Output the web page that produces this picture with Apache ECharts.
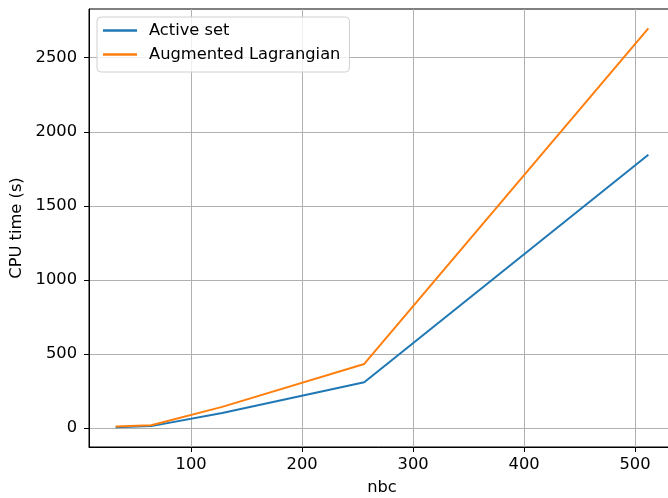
<!DOCTYPE html>
<html>
<head>
<meta charset="utf-8">
<script src="https://cdn.jsdelivr.net/npm/echarts@6/dist/echarts.min.js"></script>
<style>
html,body{margin:0;padding:0;background:#fff;}
#chart{width:668px;height:498px;}
</style>
</head>
<body>
<div id="chart"></div>
<script>
const nbc = [32, 64, 128, 256, 512];
const activeSet = [5, 12, 100, 308, 1845];
const augmentedLagrangian = [9, 18, 142, 432, 2698];
const xTicks = [100, 200, 300, 400, 500];
const yTicks = [0, 500, 1000, 1500, 2000, 2500];
const seriesNames = ['Active set', 'Augmented Lagrangian'];

const FONT = 'DejaVu Sans';
const FS = 16.3;
const chart = echarts.init(document.getElementById('chart'));
chart.setOption({
  animation: false,
  backgroundColor: '#fff',
  grid: { left: 89, top: 9, width: 586, height: 438, outerBoundsMode: 'none', containLabel: false, show: true, borderColor: '#000', borderWidth: 1, backgroundColor: 'transparent' },
  legend: {
    orient: 'vertical', left: 97, top: 17,
    data: seriesNames,
    icon: 'rect', itemWidth: 34, itemHeight: 2.5, itemGap: 7,
    padding: [5, 9, 9, 6],
    backgroundColor: 'rgba(255,255,255,0.8)', borderColor: '#d0d0d0', borderWidth: 1, borderRadius: 4,
    textStyle: { fontFamily: FONT, fontSize: FS, color: '#000', lineHeight: 17, padding: [0, 0, 0, 7] }
  },
  xAxis: {
    type: 'value', min: 8, max: 536,
    name: 'nbc', nameLocation: 'middle', nameGap: 33,
    nameTextStyle: { fontFamily: FONT, fontSize: FS, color: '#000' },
    axisLine: { show: true, onZero: false, lineStyle: { color: '#000', width: 1 } },
    axisTick: { show: true, length: 5, lineStyle: { color: '#000' }, customValues: xTicks },
    axisLabel: { fontFamily: FONT, fontSize: FS, color: '#000', margin: 10, customValues: xTicks, formatter: v => String(v) },
    splitLine: { show: true, lineStyle: { color: '#b0b0b0', width: 1 } }
  },
  yAxis: {
    type: 'value', min: -129, max: 2829,
    name: 'CPU time (s)', nameLocation: 'middle', nameGap: 57, nameRotate: 90,
    nameTextStyle: { fontFamily: FONT, fontSize: FS, color: '#000' },
    axisLine: { show: true, onZero: false, lineStyle: { color: '#000', width: 1 } },
    axisTick: { show: true, length: 5, lineStyle: { color: '#000' }, customValues: yTicks },
    axisLabel: { fontFamily: FONT, fontSize: FS, color: '#000', margin: 12, customValues: yTicks, formatter: v => String(v) },
    splitLine: { show: true, lineStyle: { color: '#b0b0b0', width: 1 } }
  },
  series: [
    { name: seriesNames[0], type: 'line', data: nbc.map((x, i) => [x, activeSet[i]]), showSymbol: false, color: '#1f77b4', lineStyle: { width: 2, color: '#1f77b4' } },
    { name: seriesNames[1], type: 'line', data: nbc.map((x, i) => [x, augmentedLagrangian[i]]), showSymbol: false, color: '#ff7f0e', lineStyle: { width: 2, color: '#ff7f0e' } }
  ]
});
</script>
</body>
</html>
